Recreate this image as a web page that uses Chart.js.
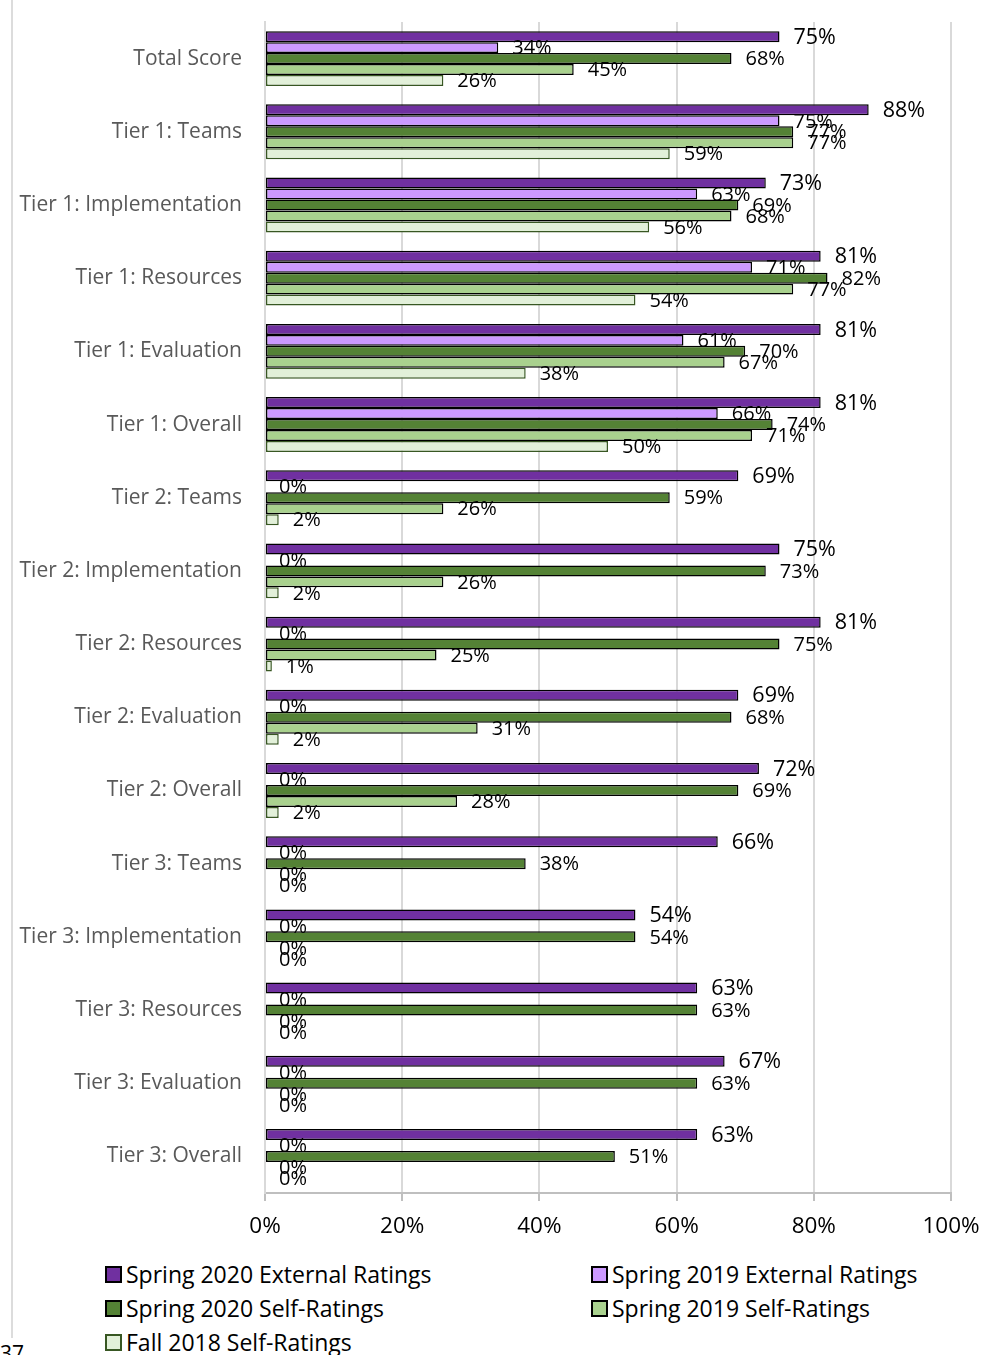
<!DOCTYPE html>
<html>
<head>
<meta charset="utf-8">
<script src="https://cdn.jsdelivr.net/npm/chart.js@4.4.1/dist/chart.umd.min.js"></script>
<style>
	html, body { margin: 0; padding: 0; background: #fff; }
	body { width: 1004px; height: 1355px; position: relative; overflow: hidden; font-family: "Open Sans", sans-serif; }
	#wrap { position: absolute; left: 0; top: 0; width: 1004px; height: 1250px; }
	#page-edge { position: absolute; left: 11px; top: 0; width: 2px; height: 1338px; background: #dcdcdc; }
	#page-num { position: absolute; left: 0; top: 1341px; font-size: 21px; color: #000; line-height: 24px; }
	.legend-item { position: absolute; display: flex; align-items: center; font-size: 23px; color: #000; white-space: nowrap; }
	.legend-item i { display: inline-block; width: 13px; height: 13px; border: 2px solid #000; margin-right: 4px; }
</style>
</head>
<body>
<div id="page-edge"></div>
<div id="wrap"><canvas id="chart-rating-scores" width="1004" height="1250"></canvas></div>
<div id="legend"></div>
<div id="page-num">37</div>
<script>
const CATEGORIES = [
	"Total Score",
	"Tier 1: Teams",
	"Tier 1: Implementation",
	"Tier 1: Resources",
	"Tier 1: Evaluation",
	"Tier 1: Overall",
	"Tier 2: Teams",
	"Tier 2: Implementation",
	"Tier 2: Resources",
	"Tier 2: Evaluation",
	"Tier 2: Overall",
	"Tier 3: Teams",
	"Tier 3: Implementation",
	"Tier 3: Resources",
	"Tier 3: Evaluation",
	"Tier 3: Overall",
];

const SPRING_2020_EXTERNAL = [75, 88, 73, 81, 81, 81, 69, 75, 81, 69, 72, 66, 54, 63, 67, 63];
const SPRING_2019_EXTERNAL = [34, 75, 63, 71, 61, 66, 0, 0, 0, 0, 0, 0, 0, 0, 0, 0];
const SPRING_2020_SELF = [68, 77, 69, 82, 70, 74, 59, 73, 75, 68, 69, 38, 54, 63, 63, 51];
const SPRING_2019_SELF = [45, 77, 68, 77, 67, 71, 26, 26, 25, 31, 28, 0, 0, 0, 0, 0];
const FALL_2018_SELF = [26, 59, 56, 54, 38, 50, 2, 2, 1, 2, 2, 0, 0, 0, 0, 0];

const X_TICKS = [0, 20, 40, 60, 80, 100];

const SERIES = [
	{ label: "Spring 2020 External Ratings", data: SPRING_2020_EXTERNAL, fill: "#7030A0", border: "#000000", font: 21.5 },
	{ label: "Spring 2019 External Ratings", data: SPRING_2019_EXTERNAL, fill: "#CC99FF", border: "#000000", font: 20 },
	{ label: "Spring 2020 Self-Ratings", data: SPRING_2020_SELF, fill: "#548235", border: "#000000", font: 20 },
	{ label: "Spring 2019 Self-Ratings", data: SPRING_2019_SELF, fill: "#A9D18E", border: "#000000", font: 20 },
	{ label: "Fall 2018 Self-Ratings", data: FALL_2018_SELF, fill: "#E2F0D9", border: "#385723", font: 20 },
];

// value labels at the end of each bar
const barValueLabels = {
	id: "barValueLabels",
	afterDatasetsDraw(chart) {
		const { ctx } = chart;
		ctx.save();
		ctx.fillStyle = "#000";
		ctx.textAlign = "left";
		ctx.textBaseline = "middle";
		chart.data.datasets.forEach((ds, i) => {
			const meta = chart.getDatasetMeta(i);
			ctx.font = `${SERIES[i].font}px "Open Sans"`;
			meta.data.forEach((bar, j) => {
				ctx.fillText(Math.round(ds.data[j]) + "%", bar.x + 14, bar.y + 1);
			});
		});
		ctx.restore();
	},
};

const CHART_CONFIG = {
	type: "bar",
	data: {
		labels: CATEGORIES,
		datasets: SERIES.map((s) => ({
			label: s.label,
			data: s.data,
			backgroundColor: s.fill,
			borderColor: s.border,
			borderWidth: 1.5,
			borderSkipped: false,
			categoryPercentage: 0.75,
			barPercentage: 1,
		})),
	},
	options: {
		responsive: false,
		animation: false,
		indexAxis: "y",
		layout: {
			padding: { top: 22, right: 53, left: 0, bottom: 0 },
		},
		plugins: {
			legend: { display: false },
			title: { display: false },
			tooltip: { enabled: false },
		},
		scales: {
			x: {
				min: 0,
				max: 100,
				afterFit: (scale) => { scale.height = 57; },
				afterBuildTicks: (scale) => { scale.ticks = X_TICKS.map((v) => ({ value: v })); },
				border: { display: true, color: "#bfbfbf", width: 2 },
				grid: {
					color: "#d9d9d9",
					lineWidth: 2,
					drawTicks: true,
					tickLength: 8,
					tickColor: "#bfbfbf",
				},
				ticks: {
					padding: 12,
					color: "#000",
					font: { family: "Open Sans", size: 22.5 },
					callback: (v) => v + "%",
				},
			},
			y: {
				afterFit: (scale) => {
					scale.width = 265;
					scale.paddingTop = 0;
					scale.paddingBottom = 0;
				},
				border: { display: true, color: "#d9d9d9", width: 2 },
				grid: { display: false, drawTicks: false },
				ticks: {
					padding: 23,
					color: "#595959",
					font: { family: "Open Sans", size: 21 },
				},
			},
		},
	},
	plugins: [barValueLabels],
};

new Chart(document.getElementById("chart-rating-scores"), CHART_CONFIG);

// legend, two columns like the original
const LEGEND = document.getElementById("legend");
const LEGEND_COLS = [105, 591];
const LEGEND_ROWS = [1274, 1308, 1342];
SERIES.forEach((s, i) => {
	const item = document.createElement("div");
	item.className = "legend-item";
	item.style.left = LEGEND_COLS[i % 2] + "px";
	item.style.top = (LEGEND_ROWS[Math.floor(i / 2)] - 17) + "px";
	item.style.height = "34px";
	item.innerHTML = `<i style="background:${s.fill};border-color:${s.border}"></i>${s.label}`;
	LEGEND.appendChild(item);
});
</script>
</body>
</html>
